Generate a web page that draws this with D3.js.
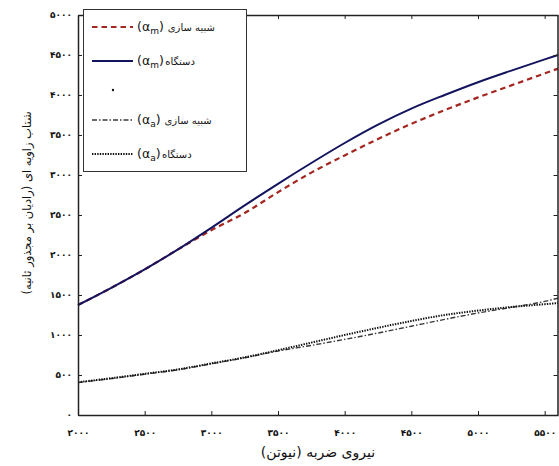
<!DOCTYPE html>
<html>
<head>
<meta charset="utf-8">
<script src="https://cdn.jsdelivr.net/npm/d3@7"></script>
<style>
  body { margin: 0; background: #fff; }
  text { font-family: "DejaVu Sans", sans-serif; }
</style>
</head>
<body>
<svg id="chart"></svg>
<script>
const width = 559;
const height = 466;

// force values (Newton)
const forces = [2000, 2250, 2500, 2750, 3000, 3250, 3500, 3750, 4000, 4250, 4500, 4750, 5000, 5250, 5500, 5600];

// angular acceleration series
const simAlphaM = [1375, 1590, 1820, 2070, 2310, 2525, 2785, 3030, 3245, 3450, 3640, 3810, 3970, 4120, 4270, 4330];
const devAlphaM = [1375, 1590, 1820, 2070, 2340, 2620, 2890, 3150, 3400, 3630, 3830, 4000, 4160, 4305, 4445, 4500];
const simAlphaA = [405, 455, 510, 565, 640, 715, 800, 870, 945, 1025, 1110, 1195, 1275, 1345, 1420, 1460];
const devAlphaA = [410, 460, 515, 570, 645, 720, 810, 905, 1000, 1090, 1175, 1250, 1305, 1350, 1385, 1400];

const xTicks = [2000, 2500, 3000, 3500, 4000, 4500, 5000, 5500];
const yTicks = [0, 500, 1000, 1500, 2000, 2500, 3000, 3500, 4000, 4500, 5000];

const xTitle = "نیروی ضربه (نیوتن)";
const yTitle = "شتاب زاویه ای (رادیان بر مجذور ثانیه)";

const seriesList = [
  { name: "شبیه سازی", sub: "m", space: true, values: simAlphaM, color: "#a3261f", width: 2.2, dash: "5.5,4" },
  { name: "دستگاه", sub: "m", space: false, values: devAlphaM, color: "#14145e", width: 2, dash: null },
  { name: "شبیه سازی", sub: "a", space: true, values: simAlphaA, color: "#3a3a3a", width: 1.4, dash: "5,2,1.5,2" },
  { name: "دستگاه", sub: "a", space: false, values: devAlphaA, color: "#111", width: 2, dash: "1.4,1.2" }
];

const toFa = n => String(n).replace(/\d/g, d => "۰۱۲۳۴۵۶۷۸۹"[d]);

const margin = { left: 78, right: 1, top: 15, bottom: 51 };
const x = d3.scaleLinear().domain([2000, 5600]).range([margin.left, width - margin.right]);
const y = d3.scaleLinear().domain([0, 5000]).range([height - margin.bottom, margin.top]);

const svg = d3.select("#chart").attr("width", width).attr("height", height);

// plot curves
const line = d3.line()
  .x((d, i) => x(forces[i]))
  .y(d => y(d))
  .curve(d3.curveMonotoneX);

svg.append("g").selectAll("path")
  .data(seriesList)
  .join("path")
  .attr("d", d => line(d.values))
  .attr("fill", "none")
  .attr("stroke", d => d.color)
  .attr("stroke-width", d => d.width)
  .attr("stroke-dasharray", d => d.dash);

// axes, ticks inward on all four sides
const axisColor = "#222";
const axisB = svg.append("g").attr("transform", `translate(0,${y(0)})`)
  .call(d3.axisBottom(x).tickValues(xTicks).tickSizeInner(-4).tickSizeOuter(0).tickPadding(15).tickFormat(toFa));
const axisT = svg.append("g").attr("transform", `translate(0,${y(5000)})`)
  .call(d3.axisTop(x).tickValues(xTicks).tickSizeInner(-4).tickSizeOuter(0).tickFormat(""));
const axisL = svg.append("g").attr("transform", `translate(${x(2000)},0)`)
  .call(d3.axisLeft(y).tickValues(yTicks).tickSizeInner(-4).tickSizeOuter(0).tickPadding(6).tickFormat(toFa));
const axisR = svg.append("g").attr("transform", `translate(${x(5600) - 0.5},0)`)
  .call(d3.axisRight(y).tickValues(yTicks).tickSizeInner(-4).tickSizeOuter(0).tickFormat(""));

[axisB, axisT, axisL, axisR].forEach(g => {
  g.select(".domain").attr("stroke", axisColor).attr("stroke-width", 1.5);
  g.selectAll(".tick line").attr("stroke", axisColor);
  g.selectAll(".tick text")
    .attr("fill", "#111")
    .attr("font-size", 9)
    .attr("font-weight", "bold")
    .attr("font-family", "DejaVu Sans");
});

// axis titles
svg.append("text")
  .attr("x", 318).attr("y", 457)
  .attr("text-anchor", "middle")
  .attr("font-size", 14)
  .attr("fill", "#111")
  .text(xTitle);

svg.append("text")
  .attr("transform", "translate(31,203) rotate(-90)")
  .attr("text-anchor", "middle")
  .attr("font-size", 11.5)
  .attr("fill", "#111")
  .text(yTitle);

// legend
const legend = svg.append("g");
legend.append("rect")
  .attr("x", 83.5).attr("y", 9.5)
  .attr("width", 163).attr("height", 162)
  .attr("fill", "#fff")
  .attr("stroke", "#333")
  .attr("stroke-width", 1);

const rowY = [27, 61, 120, 154];
seriesList.forEach((s, i) => {
  const g = legend.append("g").attr("transform", `translate(0,${rowY[i]})`);
  g.append("line")
    .attr("x1", 92).attr("x2", 133)
    .attr("stroke", s.color)
    .attr("stroke-width", s.width)
    .attr("stroke-dasharray", s.dash);
  const math = g.append("text")
    .attr("x", 137).attr("y", 4)
    .attr("font-size", 12.5)
    .attr("fill", "#111")
    .attr("direction", "ltr");
  math.append("tspan").text("(α");
  math.append("tspan").attr("font-size", 9).attr("dy", 3).text(s.sub);
  math.append("tspan").attr("dy", -3).text(")");
  const mw = math.node().getComputedTextLength();
  g.append("text")
    .attr("x", 137 + mw + (s.space ? 4 : 1.5)).attr("y", 4)
    .attr("font-size", 10)
    .attr("fill", "#111")
    .text(s.name);
});

// the stray marker in the legend
legend.append("circle")
  .attr("cx", 113).attr("cy", 90)
  .attr("r", 1.2)
  .attr("fill", "#111");
</script>
</body>
</html>
